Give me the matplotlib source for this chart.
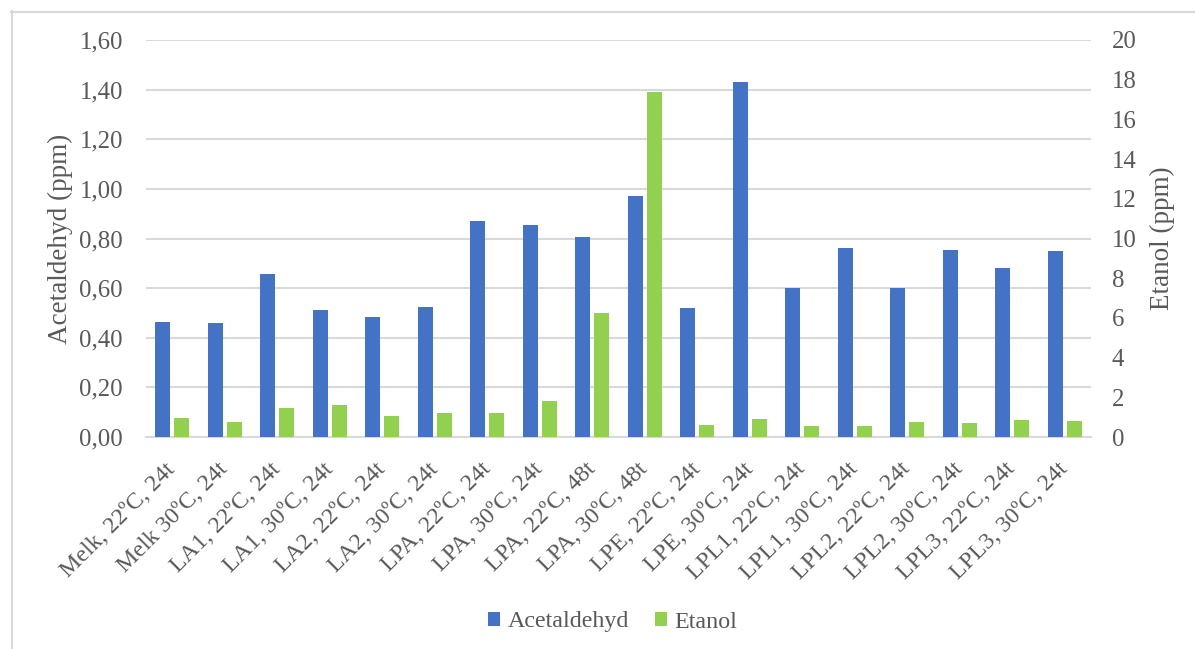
import matplotlib.pyplot as plt
from matplotlib import rcParams
from matplotlib.lines import Line2D
from matplotlib.patches import Patch
import numpy as np

rcParams["font.family"] = ["Liberation Serif", "DejaVu Serif"]
rcParams["text.color"] = "#595959"

# Prøver og målte verdier
prover = [
    "Melk, 22ºC, 24t", "Melk 30ºC, 24t", "LA1, 22ºC, 24t", "LA1, 30ºC, 24t",
    "LA2, 22ºC, 24t", "LA2, 30ºC, 24t", "LPA, 22ºC, 24t", "LPA, 30ºC, 24t",
    "LPA, 22ºC, 48t", "LPA, 30ºC, 48t", "LPE, 22ºC, 24t", "LPE, 30ºC, 24t",
    "LPL1, 22ºC, 24t", "LPL1, 30ºC, 24t", "LPL2, 22ºC, 24t", "LPL2, 30ºC, 24t",
    "LPL3, 22ºC, 24t", "LPL3, 30ºC, 24t",
]
acetaldehyd = [0.463, 0.460, 0.656, 0.511, 0.484, 0.523, 0.870, 0.855, 0.808,
               0.970, 0.519, 1.430, 0.602, 0.762, 0.601, 0.754, 0.683, 0.748]
etanol = [0.94, 0.77, 1.45, 1.61, 1.04, 1.19, 1.19, 1.82, 6.27,
          17.38, 0.59, 0.89, 0.56, 0.56, 0.74, 0.71, 0.84, 0.81]

BLA = "#4472C4"
GRONN = "#92D050"
GRA = "#595959"
LINJE = "#d9d9d9"

W, H = 1195, 649
fig = plt.figure(figsize=(W / 100, H / 100), dpi=100)
ax = fig.add_axes([146 / W, 1 - 437 / H, (1091 - 146) / W, (437 - 40) / H])
ax2 = ax.twinx()

x = np.arange(len(prover))
bw = 0.286
off = 0.178
ax.bar(x - off, acetaldehyd, width=bw, color=BLA, zorder=3)
ax2.bar(x + off, etanol, width=bw, color=GRONN, zorder=3)

ax.set_xlim(-0.5, len(prover) - 0.5)
ax.set_ylim(0, 1.6)
ax2.set_ylim(0, 20)
ax.set_yticks(np.arange(0, 1.61, 0.2))
ax.set_yticklabels([f"{v:.2f}".replace(".", ",") for v in np.arange(0, 1.61, 0.2)])
ax2.set_yticks(np.arange(0, 21, 2))

ax.yaxis.grid(True, color=LINJE, lw=1.5, zorder=0)
ax.set_axisbelow(True)
for a in (ax, ax2):
    for s in a.spines.values():
        s.set_visible(False)
    a.tick_params(length=0, labelsize=17.8, labelcolor=GRA)
ax.spines["bottom"].set_visible(True)
ax.spines["bottom"].set_color(LINJE)
ax.spines["bottom"].set_linewidth(1.5)
ax.tick_params(axis="y", pad=16.5)
ax2.tick_params(axis="y", pad=15)

ax.set_xticks(x)
ax.set_xticklabels(prover, rotation=45, ha="right", va="center",
                   rotation_mode="anchor", fontsize=17.2)
ax.tick_params(axis="x", pad=21)

ax.set_ylabel("Acetaldehyd (ppm)", fontsize=19.5, color=GRA)
ax.yaxis.set_label_coords((73 - 146) / 945, 0.5)
ax2.set_ylabel("Etanol (ppm)", fontsize=19.5, color=GRA)
ax2.yaxis.set_label_coords((1150 - 146) / 945, 0.5)

# Ramme rundt diagrammet (venstre og topp)
fig.add_artist(Line2D([11.5 / W, 11.5 / W], [0, 1 - 11 / H], color=LINJE, lw=1.5,
                      transform=fig.transFigure))
fig.add_artist(Line2D([11 / W, 1], [1 - 11.5 / H, 1 - 11.5 / H], color=LINJE, lw=1.5,
                      transform=fig.transFigure))

handles = [Patch(facecolor=BLA, label="Acetaldehyd"),
           Patch(facecolor=GRONN, label="Etanol")]
fig.legend(handles=handles, loc="center", bbox_to_anchor=(613 / W, 1 - 622 / H),
           ncol=2, frameon=False, fontsize=17.3, handlelength=0.5, handleheight=0.5,
           handletextpad=0.3, columnspacing=1.1, labelcolor=GRA)

fig.savefig("out.png", dpi=100)
